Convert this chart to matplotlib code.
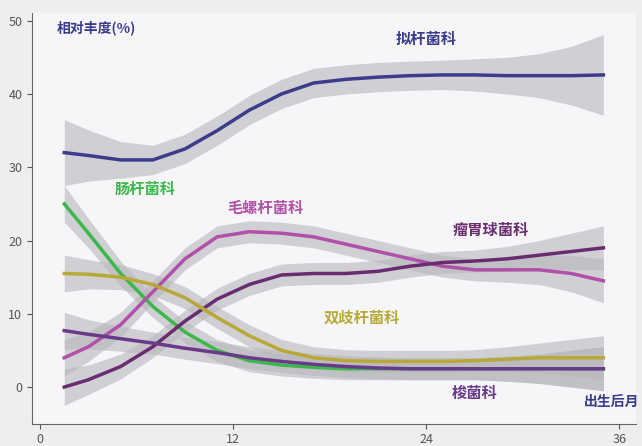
import numpy as np
import matplotlib.pyplot as plt

plt.rcParams['font.family'] = ['Noto Sans CJK SC', 'DejaVu Sans']

months = [1.5, 3, 5, 7, 9, 11, 13, 15, 17, 19, 21, 23, 25, 27, 29, 31, 33, 35]

bacteroid = [32, 31.6, 31, 31, 32.5, 35, 37.8, 40, 41.5, 42, 42.3, 42.5, 42.6, 42.6, 42.5, 42.5, 42.5, 42.6]
bact_band = [4.5, 3.5, 2.5, 2, 2, 2, 2, 2, 2, 2, 2, 2, 2, 2.2, 2.5, 3, 4, 5.5]

entero = [25, 21, 15.5, 11, 7.5, 5, 3.6, 3, 2.7, 2.5, 2.5, 2.5, 2.5, 2.5, 2.5, 2.5, 2.5, 2.5]
lachno = [4, 5.5, 8.5, 13, 17.5, 20.5, 21.2, 21, 20.5, 19.5, 18.5, 17.5, 16.5, 16, 16, 16, 15.5, 14.5]
rumino = [0, 1, 2.8, 5.5, 9, 12, 14, 15.3, 15.5, 15.5, 15.8, 16.5, 17, 17.2, 17.5, 18, 18.5, 19]
bifido = [15.5, 15.4, 15, 14, 12.2, 9.5, 7, 5, 4, 3.6, 3.5, 3.5, 3.5, 3.6, 3.8, 4, 4, 4]
clostr = [7.7, 7.2, 6.6, 6, 5.3, 4.7, 4, 3.5, 3.1, 2.8, 2.6, 2.5, 2.5, 2.5, 2.5, 2.5, 2.5, 2.5]
small_band = [2.5, 2, 1.7, 1.5, 1.5, 1.5, 1.5, 1.5, 1.5, 1.5, 1.5, 1.5, 1.5, 1.5, 1.7, 2, 2.5, 3]

series = [
    ("拟杆菌科", bacteroid, bact_band, "#3c3c8c", (24, 47.5)),
    ("肠杆菌科", entero, small_band, "#3cb84a", (6.5, 27)),
    ("毛螺杆菌科", lachno, small_band, "#b050a8", (14, 24.5)),
    ("瘤胃球菌科", rumino, small_band, "#6a2c70", (28, 21.5)),
    ("双歧杆菌科", bifido, small_band, "#b8a838", (20, 9.5)),
    ("梭菌科", clostr, small_band, "#6a3a8a", (27, -0.8)),
]

fig, ax = plt.subplots(figsize=(6.42, 4.46), dpi=100)
fig.patch.set_facecolor("#eeeef0")
ax.set_facecolor("#f6f6f8")

x = np.array(months)
for name, y, band, color, (lx, ly) in series:
    y = np.array(y)
    b = np.array(band)
    ax.fill_between(x, y - b, y + b, color="#b8b8bc", alpha=0.6, lw=0)
for name, y, band, color, (lx, ly) in series:
    ax.plot(x, y, color=color, lw=2.5)
    ax.text(lx, ly, name, color=color, fontsize=11, fontweight="bold", ha="center", va="center")

ax.text(1, 49, "相对丰度(%)", color="#3c3c8c", fontsize=10, fontweight="bold", va="center")
ax.text(35.5, -2, "出生后月", color="#3c3c8c", fontsize=10, fontweight="bold", ha="center", va="center")

ax.set_xlim(-0.5, 37)
ax.set_ylim(-5, 51)
ax.set_xticks([0, 12, 24, 36])
ax.set_yticks([0, 10, 20, 30, 40, 50])
ax.tick_params(colors="#555555", labelsize=9)
for s in ["top", "right"]:
    ax.spines[s].set_visible(False)
ax.spines["left"].set_color("#666666")
ax.spines["bottom"].set_color("#666666")

plt.subplots_adjust(left=0.05, right=0.99, top=0.97, bottom=0.05)
plt.savefig("out.png")
